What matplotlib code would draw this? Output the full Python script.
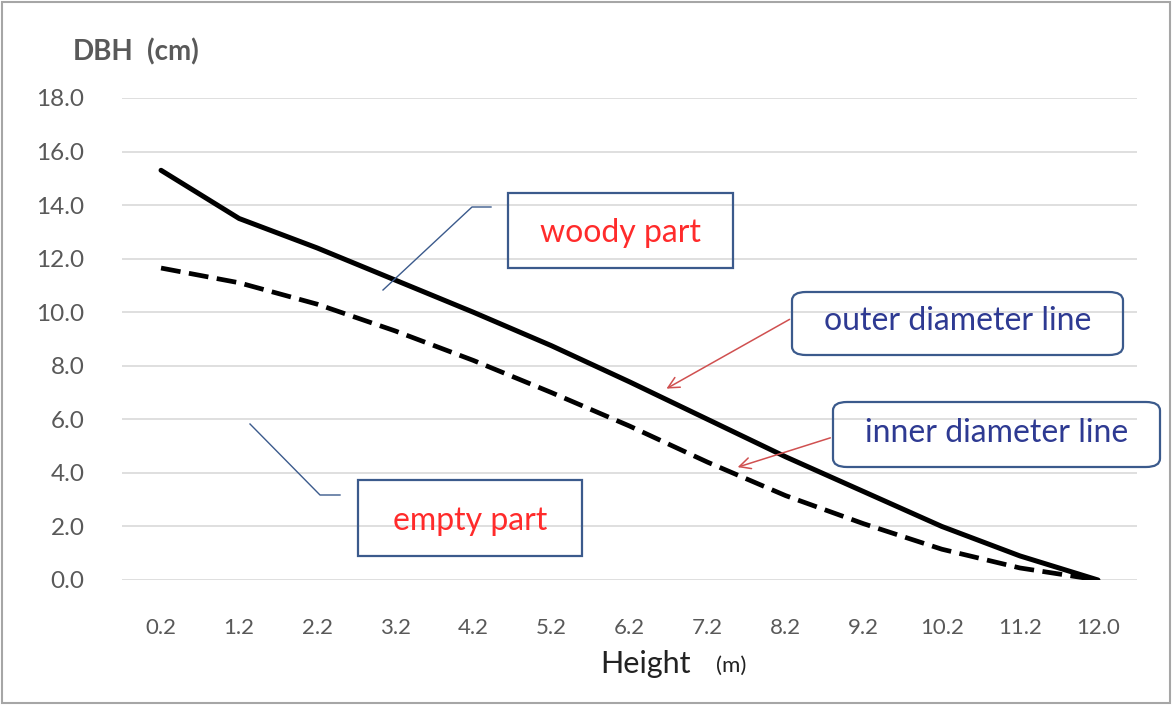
import matplotlib.pyplot as plt
from matplotlib.patches import Rectangle, FancyBboxPatch, FancyArrowPatch
from matplotlib.lines import Line2D

# 数据：树高与直径
heights = ['0.2', '1.2', '2.2', '3.2', '4.2', '5.2', '6.2', '7.2', '8.2', '9.2', '10.2', '11.2', '12.0']
outer_d = [15.3, 13.5, 12.4, 11.2, 10.0, 8.75, 7.4, 6.0, 4.6, 3.3, 2.0, 0.9, 0.0]
inner_d = [11.65, 11.1, 10.3, 9.3, 8.2, 7.0, 5.75, 4.4, 3.15, 2.1, 1.15, 0.45, 0.0]
y_ticks = [0, 2, 4, 6, 8, 10, 12, 14, 16, 18]

W, H = 1174, 706
plt.rcParams['font.family'] = ['Lato', 'DejaVu Sans']

fig = plt.figure(figsize=(W / 100, H / 100), dpi=100)


def fx(px):
    return px / W


def fy(py):
    return 1 - py / H


ax = fig.add_axes([fx(122), fy(580), fx(1137) - fx(122), fy(98) - fy(580)])
x = list(range(len(heights)))
ax.plot(x, outer_d, color='black', lw=3.6, solid_capstyle='round')
ax.plot(x, inner_d, color='black', lw=3.4, linestyle=(0, (4.2, 1.8)))
ax.set_xlim(-0.5, len(heights) - 0.5)
ax.set_ylim(0, 18)
ax.set_yticks(y_ticks)
ax.set_yticklabels(['%.1f' % v for v in y_ticks], color='#595959', fontsize=17.5)
ax.set_xticks(x)
ax.set_xticklabels(heights, color='#595959', fontsize=16)
ax.tick_params(length=0)
ax.tick_params(axis='y', pad=27)
ax.tick_params(axis='x', pad=27)
ax.grid(axis='y', color='#d9d9d9', lw=1.2)
ax.set_axisbelow(True)
for s in ax.spines.values():
    s.set_visible(False)

# 轴标题
fig.text(fx(73), fy(52), 'DBH', fontsize=20, color='#595959', fontweight='bold', va='center')
fig.text(fx(147), fy(52), '(cm)', fontsize=20, color='#595959', fontweight='bold', va='center')
fig.text(fx(600), fy(664), 'Height', fontsize=22, color='#222222', va='center')
fig.text(fx(716), fy(666), '(m)', fontsize=16, color='#222222', va='center')

# 外框
fig.patches.append(Rectangle((fx(2), fy(703)), fx(1168), fy(2) - fy(703), transform=fig.transFigure,
                             fill=False, ec='#a6a6a6', lw=1.5))

box_c = '#3b5a8c'
# woody part / empty part 标注框
for (x0, y0, x1, y1, txt) in [(508, 193, 733, 268, 'woody part'), (358, 480, 582, 556, 'empty part')]:
    fig.patches.append(Rectangle((fx(x0), fy(y1)), fx(x1) - fx(x0), fy(y0) - fy(y1),
                                 transform=fig.transFigure, fill=False, ec=box_c, lw=1.6))
    fig.text(fx((x0 + x1) / 2), fy((y0 + y1) / 2 + 3), txt, fontsize=23, color='#ff2b2b',
             ha='center', va='center')
fig.lines.append(Line2D([fx(383), fx(472), fx(491)], [fy(290), fy(207), fy(207)],
                        transform=fig.transFigure, color=box_c, lw=1))
fig.lines.append(Line2D([fx(250), fx(320), fx(340)], [fy(424), fy(495), fy(495)],
                        transform=fig.transFigure, color=box_c, lw=1))

# outer / inner diameter line 圆角框
for (x0, y0, x1, y1, txt) in [(792, 292, 1123, 355, 'outer diameter line'),
                              (833, 402, 1160, 467, 'inner diameter line')]:
    fig.patches.append(FancyBboxPatch((fx(x0), fy(y1)), fx(x1) - fx(x0), fy(y0) - fy(y1),
                                      boxstyle='round,pad=0,rounding_size=0.012',
                                      transform=fig.transFigure, fill=False, ec=box_c, lw=1.6))
    fig.text(fx((x0 + x1) / 2), fy((y0 + y1) / 2 - 2), txt, fontsize=23, color='#2e3a92',
             ha='center', va='center')

for (p0, p1) in [((792, 318), (664, 390)), ((833, 437), (735, 468))]:
    fig.patches.append(FancyArrowPatch((fx(p0[0]), fy(p0[1])), (fx(p1[0]), fy(p1[1])),
                                       transform=fig.transFigure, arrowstyle='->,head_length=8,head_width=4',
                                       color='#d05050', lw=1.1))

plt.savefig('out.png', dpi=100)
